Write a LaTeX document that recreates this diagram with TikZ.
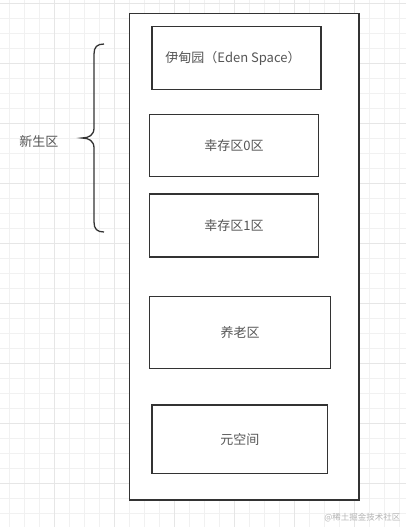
\documentclass[tikz,border=0pt]{standalone}
\usepackage{fontspec}
\setmainfont{Noto Sans CJK SC}
\usetikzlibrary{positioning}
\definecolor{boxline}{HTML}{333333}
\definecolor{labelgray}{HTML}{555555}
\definecolor{gridminor}{HTML}{F1F1F1}
\definecolor{gridmajor}{HTML}{E6E6E6}
\definecolor{markgray}{HTML}{B4B4B4}
\tikzset{
  region/.style={draw=boxline, line width=1.5pt, fill=white, inner sep=0pt,
    text=labelgray, font=\fontsize{13}{15}\selectfont},
  minorline/.style={draw=gridminor, line width=0.8pt},
  majorline/.style={draw=gridmajor, line width=1pt},
}
\begin{document}
\begin{tikzpicture}[x=1pt, y=-1pt]
            \useasboundingbox[fill=white] (0,0) rectangle (406,527);

            % grid
            \foreach \i in {0,...,26}
                \draw[minorline] ({9.3+15*\i},0) -- ({9.3+15*\i},527);
            \foreach \j in {0,...,34}
                \draw[minorline] (0,{3.3+15*\j}) -- (406,{3.3+15*\j});
            \foreach \i in {0,...,5}
                \draw[majorline] ({54.3+60*\i},0) -- ({54.3+60*\i},527);
            \foreach \j in {0,...,8}
                \draw[majorline] (0,{3.3+60*\j}) -- (406,{3.3+60*\j});

            % heap
            \node[region, minimum width=229.5pt, minimum height=486.7pt] (heap) at (244.2,256.7) {};

            \node[region, minimum width=169pt, minimum height=63pt] (eden) at (236.5,58.2) {\hspace*{-7pt}伊甸园（Eden Space）};
            \node[region, minimum width=169.4pt, minimum height=62.4pt] (s0) at (234,145.5) {幸存区0区};
            \node[region, minimum width=169.4pt, minimum height=63pt] (s1) at (234,225.5) {幸存区1区};
            \node[region, minimum width=181.4pt, minimum height=71.6pt] (old) at (240,332.5) {养老区};
            \node[region, minimum width=175.7pt, minimum height=68.3pt] (meta) at (239.8,439.2) {元空间};

            % brace
            \draw[boxline, line width=1.3pt] (104,44) .. controls (97,44) and (94,47) .. (94,54)
                -- (94,128) .. controls (94,135) and (89,138) .. (82,138)
                .. controls (89,138) and (94,141) .. (94,148)
                -- (94,222) .. controls (94,229) and (97,232) .. (104,232);
            \node[text=labelgray, font=\fontsize{13}{15}\selectfont] (young) at (39,141.7) {新生区};

            \node[text=markgray, font=\fontsize{8.5}{10}\selectfont, anchor=east] (mark) at (404,518) {@稀土掘金技术社区};
\end{tikzpicture}
\end{document}
